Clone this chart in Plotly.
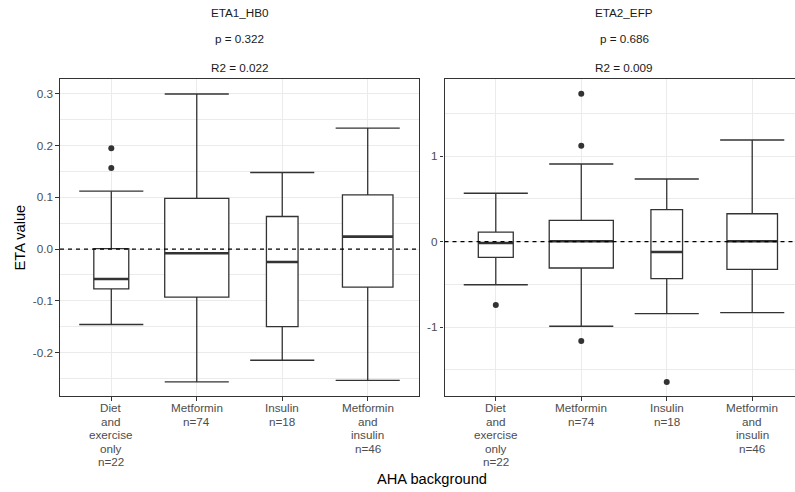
import math
import plotly.graph_objects as go

# ---------------- data ----------------
categories = ["Diet<br>and<br>exercise<br>only<br>n=22", "Metformin<br>n=74",
              "Insulin<br>n=18", "Metformin<br>and<br>insulin<br>n=46"]
positions = [1, 2, 3, 4]
n_counts = [22, 74, 18, 46]

panel_titles = ["ETA1_HB0", "ETA2_EFP"]
p_values = ["p = 0.322", "p = 0.686"]
r2_values = ["R2 = 0.022", "R2 = 0.009"]

eta1_lower = [-0.146, -0.257, -0.215, -0.254]
eta1_q1 = [-0.077, -0.093, -0.150, -0.0735]
eta1_median = [-0.058, -0.008, -0.025, 0.024]
eta1_q3 = [0.001, 0.098, 0.063, 0.105]
eta1_upper = [0.112, 0.300, 0.148, 0.234]
eta1_outliers = [[0.195, 0.157], [], [], []]

eta2_lower = [-0.503, -0.990, -0.842, -0.830]
eta2_q1 = [-0.183, -0.308, -0.433, -0.323]
eta2_median = [-0.015, 0.005, -0.120, 0.005]
eta2_q3 = [0.113, 0.250, 0.374, 0.327]
eta2_upper = [0.566, 0.909, 0.733, 1.189]
eta2_outliers = [[-0.740], [1.731, 1.123, -1.161], [-1.641], []]

y1_ticks = [-0.2, -0.1, 0.0, 0.1, 0.2, 0.3]
y1_ticktext = ["-0.2", "-0.1", "0.0", "0.1", "0.2", "0.3"]
y2_ticks = [-1, 0, 1]
y2_ticktext = ["-1", "0", "1"]

# ---------------- style ----------------
W, H = 795, 492
ML, MR, MT, MB = 60, 0, 79, 96
plot_w = W - ML - MR
plot_h = H - MT - MB
DARK = "#333333"
GRID = "#EBEBEB"
TICKC = "#4D4D4D"
FONT = "Liberation Sans, Arial, sans-serif"
BOXW = 0.75
CAPW = 0.75

p1_left, p1_right = 0, 359
p2_left = 384.5
dom1 = [p1_left / plot_w, p1_right / plot_w]
dom2 = [p2_left / plot_w, 1.0]
unit_px = 359 / 4.2
x2_max = 0.4 + (plot_w - p2_left) / unit_px

fig = go.Figure()

panels = [
    ("x", "y", eta1_lower, eta1_q1, eta1_median, eta1_q3, eta1_upper, eta1_outliers),
    ("x2", "y2", eta2_lower, eta2_q1, eta2_median, eta2_q3, eta2_upper, eta2_outliers),
]
max_n = max(n_counts)
for xa, ya, lo, q1, med, q3, hi, outs in panels:
    for i, pos in enumerate(positions):
        w = BOXW * math.sqrt(n_counts[i] / max_n)
        fig.add_trace(go.Box(
            x=[pos], q1=[q1[i]], median=[med[i]], q3=[q3[i]],
            lowerfence=[lo[i]], upperfence=[hi[i]],
            width=w, orientation="v", boxpoints=False, whiskerwidth=0,
            fillcolor="white", line=dict(color=DARK, width=1.3),
            xaxis=xa, yaxis=ya, showlegend=False, hoverinfo="skip"))
        fig.add_trace(go.Scatter(
            x=[pos - CAPW / 2, pos + CAPW / 2, None, pos - CAPW / 2, pos + CAPW / 2],
            y=[hi[i], hi[i], None, lo[i], lo[i]],
            mode="lines", line=dict(color=DARK, width=1.4),
            xaxis=xa, yaxis=ya, showlegend=False, hoverinfo="skip"))
        fig.add_trace(go.Scatter(
            x=[pos - w / 2, pos + w / 2], y=[med[i], med[i]],
            mode="lines", line=dict(color=DARK, width=2.6),
            xaxis=xa, yaxis=ya, showlegend=False, hoverinfo="skip"))
        if outs[i]:
            fig.add_trace(go.Scatter(
                x=[pos] * len(outs[i]), y=outs[i], mode="markers",
                marker=dict(color=DARK, size=6),
                xaxis=xa, yaxis=ya, showlegend=False, hoverinfo="skip"))

for xr, yr in [("x domain", "y"), ("x2 domain", "y2")]:
    fig.add_shape(type="line", xref=xr, yref=yr, x0=0, x1=1, y0=0, y1=0,
                  line=dict(color="black", width=1.2, dash="4px,4px"))

axis_common = dict(showgrid=True, gridcolor=GRID, gridwidth=1.1, zeroline=False,
                   ticks="outside", ticklen=3.7, tickcolor=DARK, tickwidth=1.1,
                   tickfont=dict(size=11.7, color=TICKC, family=FONT),
                   showline=True, linecolor=DARK, linewidth=1.1)

fig.update_layout(
    width=W, height=H,
    margin=dict(l=ML, r=MR, t=MT, b=MB, autoexpand=False),
    paper_bgcolor="white", plot_bgcolor="white",
    font=dict(family=FONT),
    xaxis=dict(domain=dom1, range=[0.4, 4.6], tickmode="array", tickvals=positions,
               ticktext=categories, showticklabels=False, mirror=True, anchor="y",
               **axis_common),
    yaxis=dict(domain=[0, 1], range=[-0.2843, 0.329], tickmode="array",
               tickvals=y1_ticks, ticktext=y1_ticktext, mirror=True, anchor="x",
               minor=dict(tickmode="linear", tick0=0.05, dtick=0.1, showgrid=True,
                          gridcolor=GRID, gridwidth=0.55, ticks=""),
               **axis_common),
    xaxis2=dict(domain=dom2, range=[0.4, x2_max], tickmode="array", tickvals=positions,
                ticktext=categories, showticklabels=False, mirror=True, anchor="y2",
                **axis_common),
    yaxis2=dict(domain=[0, 1], range=[-1.805, 1.903], tickmode="array",
                tickvals=y2_ticks, ticktext=y2_ticktext, mirror=False, anchor="x2",
                minor=dict(tickmode="linear", tick0=0.5, dtick=1, showgrid=True,
                           gridcolor=GRID, gridwidth=0.55, ticks=""),
                **axis_common),
)

def py(pix):
    return (MT + plot_h - pix) / plot_h

def px(pix):
    return (pix - ML) / plot_w

# category labels, one line each with ggplot-like tight line spacing
for xa in ["x", "x2"]:
    for pos, lab in zip(positions, categories):
        for k, line in enumerate(lab.split("<br>")):
            fig.add_annotation(text=line, xref=xa, yref="paper", x=pos,
                               y=py(407.5 + 13.5 * k), xanchor="center", yanchor="middle",
                               showarrow=False,
                               font=dict(size=11.7, color=TICKC, family=FONT))

centers = [px(ML + (p1_left + p1_right) / 2), px(ML + (p2_left + p2_left + 359) / 2)]
for j in range(2):
    for txt, ypix in [(panel_titles[j], 13.0), (p_values[j], 38.3), (r2_values[j], 67.0)]:
        fig.add_annotation(text=txt, xref="paper", yref="paper", x=centers[j], y=py(ypix),
                           xanchor="center", yanchor="middle", showarrow=False,
                           font=dict(size=11.7, color="#1A1A1A", family=FONT))

fig.add_annotation(text="AHA background", xref="paper", yref="paper",
                   x=px(431.5), y=py(479), xanchor="center", yanchor="middle",
                   showarrow=False, font=dict(size=14.67, color="black", family=FONT))
fig.add_annotation(text="ETA value", xref="paper", yref="paper",
                   x=px(19), y=0.5, xanchor="center", yanchor="middle", textangle=-90,
                   showarrow=False, font=dict(size=14.67, color="black", family=FONT))

fig.write_html("out.html", config={"responsive": False, "displayModeBar": False},
               post_script="document.body.style.margin='0';document.body.style.overflow='hidden';")
